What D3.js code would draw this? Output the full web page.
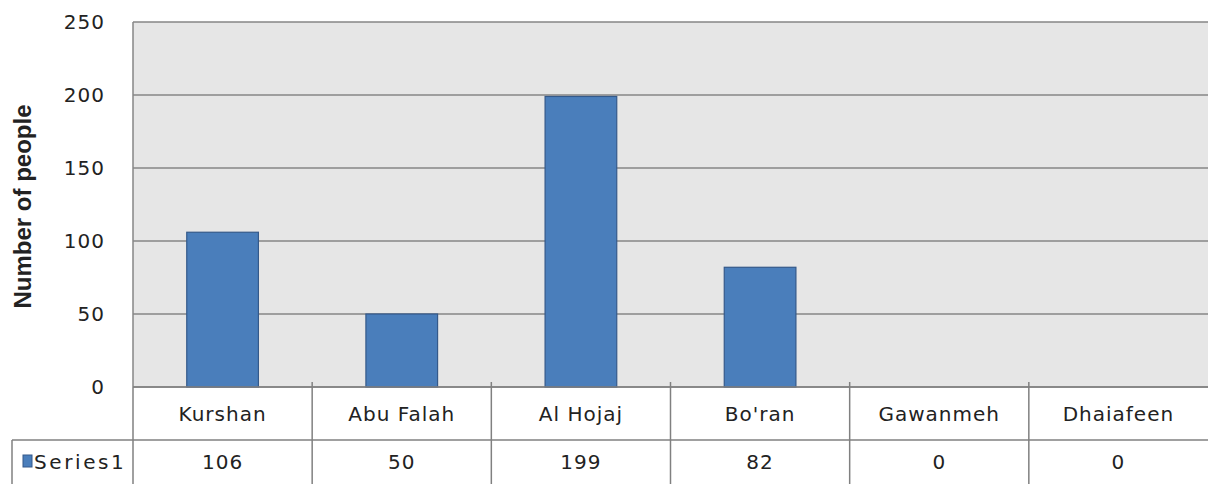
<!DOCTYPE html>
<html>
<head>
<meta charset="utf-8">
<script src="https://cdn.jsdelivr.net/npm/d3@7"></script>
<style>
  body { margin: 0; background: #fff; }
  svg { display: block; }
  .tick-label, .cell-text { font-family: "DejaVu Sans", Verdana, sans-serif; font-size: 20px; fill: #222; letter-spacing: 1px; }
  .axis-title { font-family: "Liberation Sans", Arial, sans-serif; font-size: 24px; font-weight: bold; fill: #222; }
</style>
</head>
<body>
<div id="chart"></div>
<script>
// chart data
var categories = ["Kurshan", "Abu Falah", "Al Hojaj", "Bo'ran", "Gawanmeh", "Dhaiafeen"];
var values = [106, 50, 199, 82, 0, 0];
var seriesName = "Series1";
var yTicks = [0, 50, 100, 150, 200, 250];
var yTitle = "Number of people";

var W = 1208, H = 484;
var plot = { left: 133, top: 22, right: 1208, bottom: 387 };
var tableLeft = 12, rowSplit = 440, tableBottom = 484;

var svg = d3.select("#chart").append("svg")
    .attr("width", W)
    .attr("height", H);

// scales
var xCell = d3.scaleBand().domain(categories).range([plot.left, plot.right]);
var xBar = d3.scaleBand().domain(categories).range([plot.left, plot.right])
    .paddingInner(0.6).paddingOuter(0.3);
var y = d3.scaleLinear().domain([0, 250]).range([plot.bottom, plot.top]);

// plot background
svg.append("rect")
    .attr("x", plot.left)
    .attr("y", plot.top)
    .attr("width", plot.right - plot.left)
    .attr("height", plot.bottom - plot.top)
    .attr("fill", "#e6e6e6");

// gridlines
svg.append("g")
    .selectAll("line")
    .data(yTicks)
    .join("line")
    .attr("x1", plot.left)
    .attr("x2", plot.right)
    .attr("y1", function(d) { return y(d); })
    .attr("y2", function(d) { return y(d); })
    .attr("stroke", "#868686")
    .attr("stroke-width", 1.5);

// left axis line
svg.append("line")
    .attr("x1", plot.left).attr("x2", plot.left)
    .attr("y1", plot.top).attr("y2", plot.bottom)
    .attr("stroke", "#868686").attr("stroke-width", 1.5);

// bars
var data = categories.map(function(c, i) { return { cat: c, value: values[i] }; });
svg.append("g")
    .selectAll("rect")
    .data(data.filter(function(d) { return d.value > 0; }))
    .join("rect")
    .attr("x", function(d) { return xBar(d.cat); })
    .attr("y", function(d) { return y(d.value); })
    .attr("width", xBar.bandwidth())
    .attr("height", function(d) { return y(0) - y(d.value); })
    .attr("fill", "#4a7ebb")
    .attr("stroke", "#34598a")
    .attr("stroke-width", 1.2);

// y axis labels
var yAxis = svg.append("g")
    .attr("transform", "translate(" + plot.left + ",0)")
    .call(d3.axisLeft(y).tickValues(yTicks).tickSize(0).tickPadding(28));
yAxis.select(".domain").remove();
yAxis.selectAll("text").attr("class", "tick-label").attr("fill", null);

// y axis title, centred on the plot area
svg.append("text")
    .attr("class", "axis-title")
    .attr("transform", "translate(31," + ((plot.top + plot.bottom) / 2 + 2) + ") rotate(-90)")
    .attr("text-anchor", "middle")
    .text(yTitle);

// data table lines
var table = svg.append("g").attr("stroke", "#808080").attr("stroke-width", 1.5);
table.append("line")
    .attr("x1", plot.left).attr("x2", plot.right)
    .attr("y1", plot.bottom).attr("y2", plot.bottom);
table.append("line")
    .attr("x1", tableLeft).attr("x2", plot.right)
    .attr("y1", rowSplit).attr("y2", rowSplit);
table.append("line")
    .attr("x1", tableLeft).attr("x2", tableLeft)
    .attr("y1", rowSplit).attr("y2", tableBottom);
table.append("line")
    .attr("x1", plot.left).attr("x2", plot.left)
    .attr("y1", plot.bottom).attr("y2", tableBottom);
table.selectAll(".divider")
    .data(categories.slice(1))
    .join("line")
    .attr("class", "divider")
    .attr("x1", function(d) { return xCell(d); })
    .attr("x2", function(d) { return xCell(d); })
    .attr("y1", plot.bottom - 5)
    .attr("y2", tableBottom);

// category names
svg.append("g")
    .selectAll("text")
    .data(categories)
    .join("text")
    .attr("class", "cell-text")
    .attr("x", function(d) { return xCell(d) + xCell.bandwidth() / 2; })
    .attr("y", (plot.bottom + rowSplit) / 2)
    .attr("dy", "0.36em")
    .attr("text-anchor", "middle")
    .text(function(d) { return d; });

// values row
svg.append("g")
    .selectAll("text")
    .data(data)
    .join("text")
    .attr("class", "cell-text")
    .attr("x", function(d) { return xCell(d.cat) + xCell.bandwidth() / 2; })
    .attr("y", (rowSplit + tableBottom) / 2)
    .attr("dy", "0.36em")
    .attr("text-anchor", "middle")
    .text(function(d) { return d.value; });

// legend key in table
var rowMid = (rowSplit + tableBottom) / 2;
svg.append("rect")
    .attr("x", 23)
    .attr("y", rowMid - 7)
    .attr("width", 9)
    .attr("height", 12)
    .attr("fill", "#4a7ebb")
    .attr("stroke", "#34598a");
svg.append("text")
    .attr("class", "cell-text")
    .attr("x", 34)
    .attr("y", rowMid)
    .attr("dy", "0.36em")
    .style("letter-spacing", "2.6px")
    .text(seriesName);
</script>
</body>
</html>
